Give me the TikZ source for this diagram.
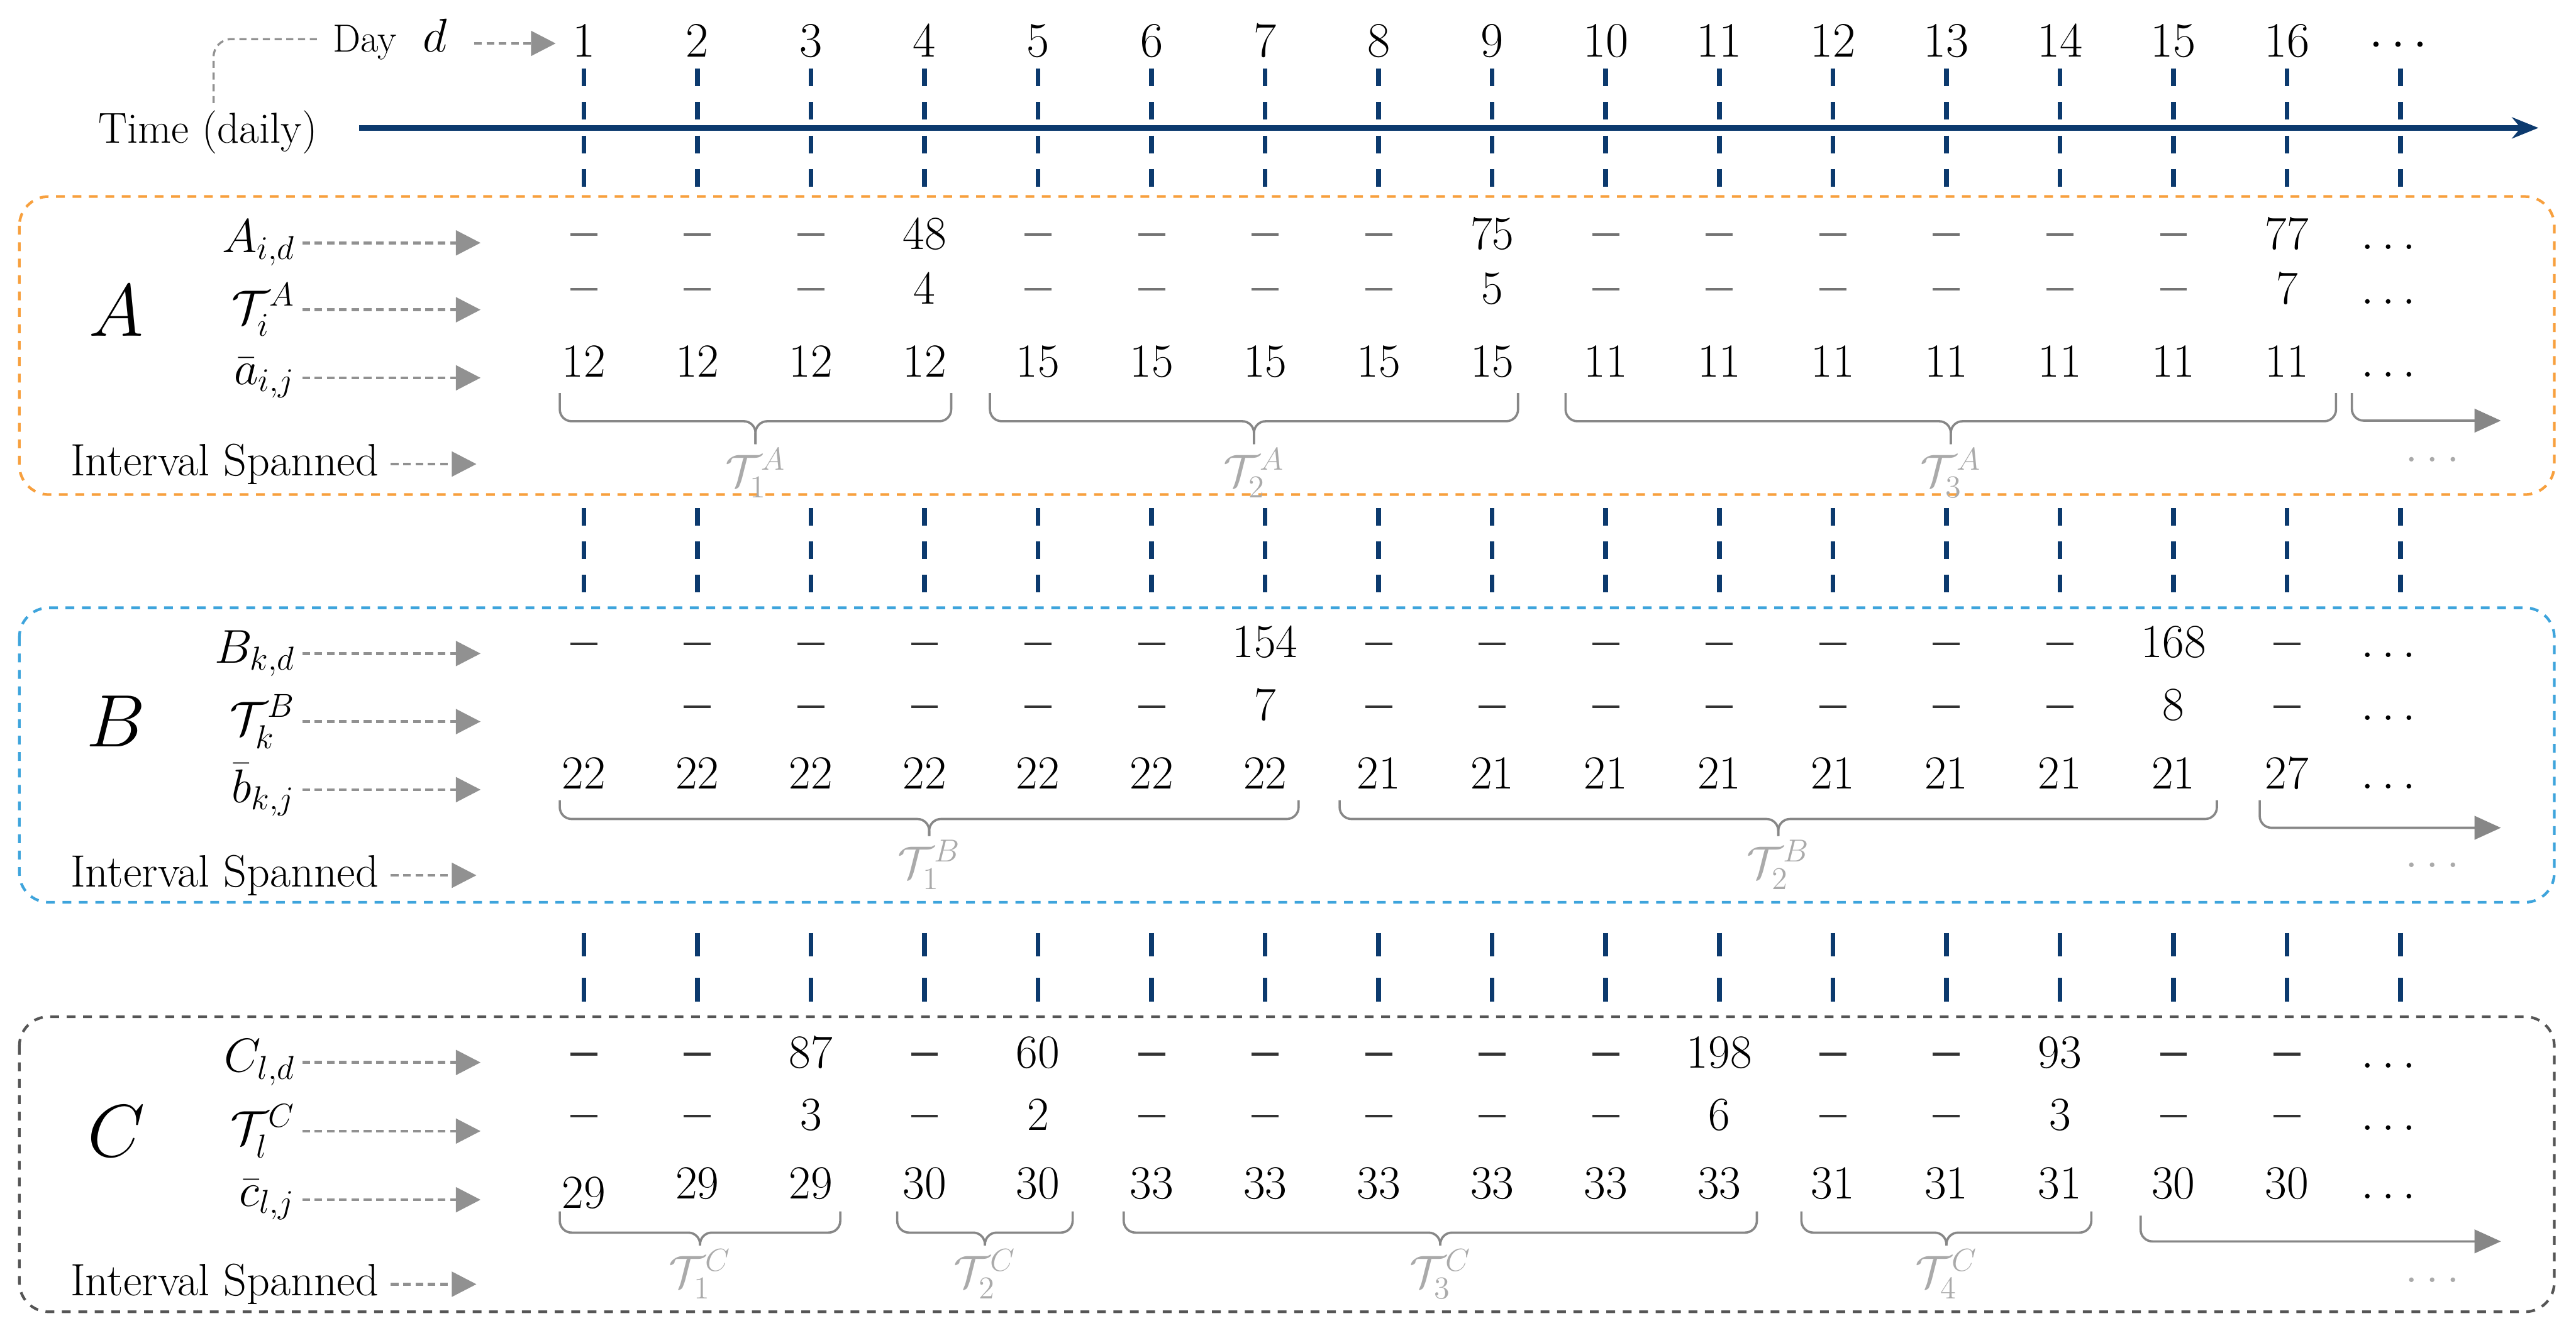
\RequirePackage{fix-cm}
\documentclass[tikz,border=0pt]{standalone}
\usepackage{amsmath}
\usetikzlibrary{arrows.meta, positioning, calc}
\definecolor{timeBlue}{RGB}{12, 58, 110}
\definecolor{boxOrange}{RGB}{247, 160, 62}
\definecolor{boxBlue}{RGB}{62, 164, 220}
\definecolor{boxGray}{RGB}{85, 85, 85}
\definecolor{arrowGray}{RGB}{145, 145, 145}
\definecolor{spanGray}{RGB}{135, 135, 135}
\definecolor{labGray}{RGB}{170, 170, 170}

% empty entries in the value rows
\newcommand{\novalA}{\textcolor{black!55}{\rule[0.23cm]{0.46cm}{0.045cm}}}
\newcommand{\noval}{\textcolor{black!80}{\rule[0.21cm]{0.46cm}{0.045cm}}}

% brace under an interval: name, x1, x2, top, line, tip, label
\newcommand{\spanbrace}[7]{%
  \draw[spanline] (#2,#4) -- (#2,#5) -- ({(#2+#3)/2},#5) -- ({(#2+#3)/2},#6);
  \draw[spanline] (#3,#4) -- (#3,#5) -- ({(#2+#3)/2},#5) -- ({(#2+#3)/2},#6);
  \node[spanlab] (#1) at ({(#2+#3)/2},#6) {#7};
}

\begin{document}
\begin{tikzpicture}[
  val/.style={anchor=base, inner sep=0pt, font=\fontsize{23}{27}\selectfont},
  daynum/.style={anchor=base, inner sep=0pt, font=\fontsize{24}{28}\selectfont},
  rowlab/.style={anchor=east, font=\fontsize{23}{27}\selectfont},
  grplab/.style={font=\fontsize{36}{40}\selectfont},
  islab/.style={anchor=east, inner sep=0.2cm, font=\fontsize{22}{26}\selectfont},
  spanlab/.style={anchor=north, inner sep=0.06cm, text=labGray,
                  font=\fontsize{22}{26}\selectfont},
  rowarrow/.style={draw=arrowGray, line width=1.4pt,
                   dash pattern=on 0.13cm off 0.08cm,
                   -{Triangle[length=0.42cm, width=0.42cm]}},
  spanline/.style={draw=spanGray, line width=1.1pt, rounded corners=0.2cm},
  dayline/.style={draw=timeBlue, line width=2.3pt,
                  dash pattern=on 0.3cm off 0.27cm},
  grpbox/.style={line width=1.3pt, rounded corners=0.5cm,
                 dash pattern=on 0.15cm off 0.13cm},
  guide/.style={draw=arrowGray, line width=1pt,
                dash pattern=on 0.12cm off 0.08cm, rounded corners=0.3cm}
]
  \useasboundingbox (0,0) rectangle (43.90,-22.72);

  % Day grid lines
  \foreach \d in {1,...,17} {
    \pgfmathsetmacro\x{9.95+1.935*(\d-1)}
    \draw[dayline] (\x,-1.17) -- (\x,-3.20);
    \draw[dayline] (\x,-8.66) -- (\x,-10.12);
    \draw[dayline, dash pattern=on 0.4cm off 0.37cm] (\x,-15.90) -- (\x,-17.08);
  }

  % Time axis
  \coordinate (axs) at (6.12,-2.18);
  \coordinate (axe) at (43.26,-2.18);
  \draw[timeBlue, line width=2.6pt, -{Stealth[length=0.45cm, width=0.36cm]}] (axs) -- (axe);
  \node[font=\fontsize{21}{25}\selectfont] (time) at (3.54,-2.25) {Time (daily)};
  \node[anchor=base west, inner sep=0.05cm, font=\fontsize{19}{23}\selectfont] (day) at (5.62,-0.88)
    {Day\hspace{0.45cm}{\fontsize{23}{27}\selectfont$d$}};
  \coordinate (dayend) at (9.47,-0.74);
  \draw[rowarrow, shorten <=0.4cm] (day.east |- dayend) -- (dayend);
  \draw[guide] ([xshift=0.1cm]time.north) |- ([xshift=-0.2cm]day.west);
  \foreach \d in {1,...,16}
    \node[daynum] (d\d) at ({9.95+1.935*(\d-1)},-0.97) {\d};
  \node[daynum] (d17) at (40.94,-0.97) {$\cdots$};

  % Group boxes
  \draw[grpbox, draw=boxOrange] (0.33,-3.35) rectangle (43.53,-8.43);
  \draw[grpbox, draw=boxBlue] (0.33,-10.36) rectangle (43.53,-15.38);
  \draw[grpbox, draw=boxGray] (0.33,-17.33) rectangle (43.53,-22.36);

  % Group A
  \node[grplab] (gA) at (1.98,-5.30) {$A$};
  \node[rowlab] (la1) at (5.15,-4.14) {$A_{i,d}$};
  \node[rowlab] (la2) at (5.15,-5.28) {$\mathcal{T}_i^{A}$};
  \node[rowlab] (la3) at (5.15,-6.44) {$\bar{a}_{i,j}$};
  \node[islab] (isA) at (6.66,-7.91) {Interval Spanned};
  \coordinate (ta1) at (8.19,-4.14);
  \coordinate (ta2) at (8.19,-5.28);
  \coordinate (ta3) at (8.19,-6.44);
  \coordinate (tisA) at (8.12,-7.91);
  \draw[rowarrow] (la1.east) -- (ta1);
  \draw[rowarrow] (la2.east) -- (ta2);
  \draw[rowarrow] (la3.east) -- (ta3);
  \draw[rowarrow] (isA.east) -- (tisA);
  \foreach \v [count=\d] in {\novalA,\novalA,\novalA,48,\novalA,\novalA,\novalA,\novalA,75,\novalA,\novalA,\novalA,\novalA,\novalA,\novalA,77}
    \node[val] (a1-\d) at ({9.95+1.935*(\d-1)},-4.25) {\v};
  \foreach \v [count=\d] in {\novalA,\novalA,\novalA,4,\novalA,\novalA,\novalA,\novalA,5,\novalA,\novalA,\novalA,\novalA,\novalA,\novalA,7}
    \node[val] (a2-\d) at ({9.95+1.935*(\d-1)},-5.18) {\v};
  \foreach \v [count=\d] in {12,12,12,12,15,15,15,15,15,11,11,11,11,11,11,11}
    \node[val] (a3-\d) at ({9.95+1.935*(\d-1)},-6.43) {\v};
  \spanbrace{tA1}{9.54}{16.21}{-6.70}{-7.18}{-7.57}{$\mathcal{T}_1^{A}$}
  \spanbrace{tA2}{16.87}{25.87}{-6.70}{-7.18}{-7.57}{$\mathcal{T}_2^{A}$}
  \spanbrace{tA3}{26.68}{39.81}{-6.70}{-7.18}{-7.57}{$\mathcal{T}_3^{A}$}
  \draw[spanline, -{Triangle[length=0.45cm, width=0.4cm]}] (40.08,-6.70) -- (40.08,-7.17) -- (42.62,-7.17);
  \node[val, anchor=center, text=labGray] (mA) at (41.45,-7.83) {$\ldots$};

  % Group B
  \node[grplab] (gB) at (1.98,-12.30) {$B$};
  \node[rowlab] (lb1) at (5.15,-11.14) {$B_{k,d}$};
  \node[rowlab] (lb2) at (5.15,-12.30) {$\mathcal{T}_k^{B}$};
  \node[rowlab] (lb3) at (5.15,-13.46) {$\bar{b}_{k,j}$};
  \node[islab] (isB) at (6.66,-14.92) {Interval Spanned};
  \coordinate (tb1) at (8.19,-11.14);
  \coordinate (tb2) at (8.19,-12.30);
  \coordinate (tb3) at (8.19,-13.46);
  \coordinate (tisB) at (8.12,-14.92);
  \draw[rowarrow] (lb1.east) -- (tb1);
  \draw[rowarrow] (lb2.east) -- (tb2);
  \draw[rowarrow] (lb3.east) -- (tb3);
  \draw[rowarrow] (isB.east) -- (tisB);
  \foreach \v [count=\d] in {\noval,\noval,\noval,\noval,\noval,\noval,154,\noval,\noval,\noval,\noval,\noval,\noval,\noval,168,\noval}
    \node[val] (b1-\d) at ({9.95+1.935*(\d-1)},-11.21) {\v};
  \foreach \v [count=\d from 2] in {\noval,\noval,\noval,\noval,\noval,7,\noval,\noval,\noval,\noval,\noval,\noval,\noval,8,\noval}
    \node[val] (b2-\d) at ({9.95+1.935*(\d-1)},-12.28) {\v};
  \foreach \v [count=\d] in {22,22,22,22,22,22,22,21,21,21,21,21,21,21,21,27}
    \node[val] (b3-\d) at ({9.95+1.935*(\d-1)},-13.45) {\v};
  \spanbrace{tB1}{9.54}{22.13}{-13.64}{-13.96}{-14.25}{$\mathcal{T}_1^{B}$}
  \spanbrace{tB2}{22.83}{37.78}{-13.64}{-13.96}{-14.25}{$\mathcal{T}_2^{B}$}
  \draw[spanline, -{Triangle[length=0.45cm, width=0.4cm]}] (38.51,-13.64) -- (38.51,-14.11) -- (42.62,-14.11);
  \node[val, anchor=center, text=labGray] (mB) at (41.45,-14.75) {$\ldots$};

  % Group C
  \node[grplab] (gC) at (1.98,-19.28) {$C$};
  \node[rowlab] (lc1) at (5.15,-18.11) {$C_{l,d}$};
  \node[rowlab] (lc2) at (5.15,-19.28) {$\mathcal{T}_l^{C}$};
  \node[rowlab] (lc3) at (5.15,-20.45) {$\bar{c}_{l,j}$};
  \node[islab] (isC) at (6.66,-21.89) {Interval Spanned};
  \coordinate (tc1) at (8.19,-18.11);
  \coordinate (tc2) at (8.19,-19.28);
  \coordinate (tc3) at (8.19,-20.45);
  \coordinate (tisC) at (8.12,-21.89);
  \draw[rowarrow] (lc1.east) -- (tc1);
  \draw[rowarrow] (lc2.east) -- (tc2);
  \draw[rowarrow] (lc3.east) -- (tc3);
  \draw[rowarrow] (isC.east) -- (tisC);
  \foreach \v [count=\d] in {\noval,\noval,87,\noval,60,\noval,\noval,\noval,\noval,\noval,198,\noval,\noval,93,\noval,\noval}
    \node[val] (c1-\d) at ({9.95+1.935*(\d-1)},-18.20) {\v};
  \foreach \v [count=\d] in {\noval,\noval,3,\noval,2,\noval,\noval,\noval,\noval,\noval,6,\noval,\noval,3,\noval,\noval}
    \node[val] (c2-\d) at ({9.95+1.935*(\d-1)},-19.26) {\v};
  \node[val] (c3-1) at (9.95,-20.59) {29};
  \foreach \v [count=\d from 2] in {29,29,30,30,33,33,33,33,33,33,31,31,31,30,30}
    \node[val] (c3-\d) at ({9.95+1.935*(\d-1)},-20.43) {\v};
  \spanbrace{tC1}{9.54}{14.32}{-20.65}{-21.01}{-21.23}{$\mathcal{T}_1^{C}$}
  \spanbrace{tC2}{15.29}{18.28}{-20.65}{-21.01}{-21.23}{$\mathcal{T}_2^{C}$}
  \spanbrace{tC3}{19.15}{29.94}{-20.65}{-21.01}{-21.23}{$\mathcal{T}_3^{C}$}
  \spanbrace{tC4}{30.70}{35.64}{-20.65}{-21.01}{-21.23}{$\mathcal{T}_4^{C}$}
  \draw[spanline, -{Triangle[length=0.45cm, width=0.4cm]}] (36.48,-20.72) -- (36.48,-21.16) -- (42.62,-21.16);
  \node[val, anchor=center, text=labGray] (mC) at (41.45,-21.82) {$\ldots$};

  % Trailing dots of every row
  \foreach \n/\y in {a1/-4.25, a2/-5.18, a3/-6.43, b1/-11.21, b2/-12.28, b3/-13.45, c1/-18.20, c2/-19.26, c3/-20.43}
    \node[val] (\n-dots) at (40.70,\y) {$\ldots$};

\end{tikzpicture}
\end{document}
